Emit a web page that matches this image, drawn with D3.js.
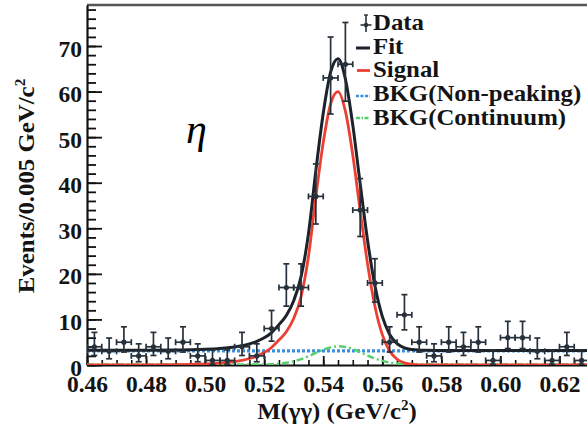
<!DOCTYPE html>
<html><head><meta charset="utf-8">
<script src="https://cdn.jsdelivr.net/npm/d3@7/dist/d3.min.js"></script>
<style>
html,body{margin:0;padding:0;background:#fff;}
svg{display:block;}
</style></head>
<body>
<svg id="chart" width="587" height="428"></svg>
<script>
// ---------------- data ----------------
const binCenters = [0.4625,0.4675,0.4725,0.4775,0.4825,0.4875,0.4925,0.4975,0.5025,0.5075,
  0.5125,0.5175,0.5225,0.5275,0.5325,0.5375,0.5425,0.5475,0.5525,0.5575,
  0.5625,0.5675,0.5725,0.5775,0.5825,0.5875,0.5925,0.5975,0.6025,0.6075,
  0.6125,0.6175,0.6225,0.6275];
const counts = [4,3,5,2,4,3,5,2,1,1,
  4,2,8,17,17,37,63,66,34,18,
  5,11,5,2,5,4,5,1,6,6,
  3,1,4,1];
const errLo = [1.91,1.63,2.16,1.29,1.91,1.63,2.16,1.29,0.83,0.83,
  1.91,1.29,2.77,4.08,4.08,6.06,7.92,8.11,5.80,4.20,
  2.16,3.28,2.16,1.29,2.16,1.91,2.16,0.83,2.38,2.38,
  1.63,0.83,1.91,0.83];
const errHi = [3.16,2.92,3.38,2.64,3.16,2.92,3.38,2.64,2.30,2.30,
  3.16,2.64,3.96,5.20,5.20,7.13,8.97,9.16,6.90,5.32,
  3.38,4.44,3.38,2.64,3.38,3.16,3.38,2.30,3.58,3.58,
  2.92,2.30,3.16,2.30];
const binHalfWidth = 0.0025;

const curveX = [0.46,0.47,0.48,0.49,0.495,0.50,0.505,0.51,
  0.5125,0.515,0.5175,0.52,0.5225,0.525,0.5275,0.53,0.5325,0.535,0.5375,0.54,0.5425,0.545,0.5475,
  0.55,0.5525,0.555,0.5575,0.56,0.5625,0.565,0.5675,0.57,0.5725,0.575,
  0.58,0.59,0.60,0.61,0.62,0.63];
const fitTotal = [3.21,3.21,3.23,3.28,3.34,3.44,3.62,3.96,
  4.23,4.63,5.17,5.96,7.13,8.86,10.88,14.1,19.38,28.82,42.65,55.25,64.27,67.2,62.76,
  52.69,39.82,27.39,17.42,10.67,6.71,4.68,3.76,3.39,3.26,3.22,
  3.20,3.20,3.20,3.20,3.20,3.20];
const signal = [0.01,0.01,0.03,0.08,0.14,0.24,0.42,0.76,
  1.03,1.42,1.96,2.73,3.85,5.47,7.3,10.2,15.0,23.8,36.9,48.8,57.3,60.0,55.7,
  46.1,33.9,22.2,12.9,6.67,3.07,1.26,0.46,0.15,0.04,0.01,
  0,0,0,0,0,0];
const bkgContinuum = [0.10,0.10,0.10,0.10,0.10,0.10,0.10,0.10,
  0.10,0.11,0.11,0.13,0.18,0.29,0.48,0.80,1.28,1.92,2.65,3.35,3.87,4.10,3.96,
  3.49,2.82,2.09,1.42,0.90,0.54,0.32,0.20,0.14,0.12,0.11,
  0.10,0.10,0.10,0.10,0.10,0.10];
const bkgX = [0.46,0.63];
const bkgNonPeaking = [3.1,3.1];

const xTickValues = [0.46,0.48,0.50,0.52,0.54,0.56,0.58,0.60,0.62];
const xTickLabels = ["0.46","0.48","0.50","0.52","0.54","0.56","0.58","0.60","0.62"];
const yTickValues = [0,10,20,30,40,50,60,70];
const yTickLabels = ["0","10","20","30","40","50","60","70"];

const legendLabels = ["Data","Fit","Signal","BKG(Non-peaking)","BKG(Continuum)"];

// ---------------- drawing ----------------
const svg = d3.select("#chart");
const serif = "'Liberation Serif','Times New Roman',serif";
const x = d3.scaleLinear().domain([0.46,0.63]).range([87,589]);
const y = d3.scaleLinear().domain([0,79]).range([365,5]);

const C = {data:"#27313b", fit:"#1b222a", sig:"#ec3f34", blue:"#3a8fe0", green:"#55cf6c"};

svg.append("defs").append("clipPath").attr("id","clip")
  .append("rect").attr("x",87).attr("y",5).attr("width",502).attr("height",360);

// frame top
svg.append("line").attr("x1",87).attr("x2",589).attr("y1",5).attr("y2",5)
  .attr("stroke","#555").attr("stroke-width",2.5);

// minor ticks
const xMinor = d3.range(0,35).map(i => 0.46 + i*0.005);
const yMinor = d3.range(0,40).map(i => i*2);

svg.append("g").attr("transform","translate(0,365)")
  .call(d3.axisBottom(x).tickValues(xMinor).tickFormat("").tickSize(-5).tickSizeOuter(0))
  .call(g => g.select(".domain").remove())
  .call(g => g.selectAll("line").attr("stroke","#111").attr("stroke-width",1.6));
svg.append("g").attr("transform","translate(87,0)")
  .call(d3.axisLeft(y).tickValues(yMinor).tickFormat("").tickSize(-9).tickSizeOuter(0))
  .call(g => g.select(".domain").remove())
  .call(g => g.selectAll("line").attr("stroke","#111").attr("stroke-width",1.8));

// major axes
const xAxis = svg.append("g").attr("transform","translate(0,365)")
  .call(d3.axisBottom(x).tickValues(xTickValues).tickFormat((d,i)=>xTickLabels[i])
        .tickSize(-9).tickSizeOuter(0).tickPadding(10));
xAxis.select(".domain").attr("stroke","#111").attr("stroke-width",2.2);
xAxis.selectAll("line").attr("stroke","#111").attr("stroke-width",1.8);
xAxis.selectAll("text").attr("font-family",serif).attr("font-weight","bold")
  .attr("font-size",23.5).attr("fill","#141414");

const yAxis = svg.append("g").attr("transform","translate(87,0)")
  .call(d3.axisLeft(y).tickValues(yTickValues).tickFormat((d,i)=>yTickLabels[i])
        .tickSize(-15).tickSizeOuter(0).tickPadding(5));
yAxis.select(".domain").attr("stroke","#111").attr("stroke-width",2.2);
yAxis.selectAll("line").attr("stroke","#111").attr("stroke-width",1.8);
yAxis.selectAll("text").attr("font-family",serif).attr("font-weight","bold")
  .attr("font-size",23.5).attr("fill","#141414").attr("dy","0.43em");

// curves
const plot = svg.append("g").attr("clip-path","url(#clip)");
const lineOf = (xs, ys) => d3.line().curve(d3.curveMonotoneX)
  .x((d,i)=>x(xs[i])).y((d,i)=>y(ys[i]))(ys);

plot.append("path").attr("d", lineOf(bkgX,bkgNonPeaking)).attr("fill","none")
  .attr("stroke",C.blue).attr("stroke-width",3.4).attr("stroke-dasharray","3,2");
plot.append("path").attr("d", lineOf(curveX,bkgContinuum)).attr("fill","none")
  .attr("stroke",C.green).attr("stroke-width",2.5).attr("stroke-dasharray","7,3,2,3");
plot.append("path").attr("d", lineOf(curveX,signal)).attr("fill","none")
  .attr("stroke",C.sig).attr("stroke-width",2.8);
plot.append("path").attr("d", lineOf(curveX,fitTotal)).attr("fill","none")
  .attr("stroke",C.fit).attr("stroke-width",3);

// data points
const dg = plot.append("g").attr("stroke",C.data).attr("stroke-width",1.7);
binCenters.forEach((c,i)=>{
  const cx = x(c), cy = y(counts[i]);
  const x0 = x(c-binHalfWidth), x1 = x(c+binHalfWidth);
  const yt = y(counts[i]+errHi[i]), yb = y(Math.max(0,counts[i]-errLo[i]));
  dg.append("line").attr("x1",x0).attr("x2",x1).attr("y1",cy).attr("y2",cy);
  dg.append("line").attr("x1",cx).attr("x2",cx).attr("y1",yt).attr("y2",yb);
  dg.append("line").attr("x1",cx-3).attr("x2",cx+3).attr("y1",yt).attr("y2",yt);
  dg.append("line").attr("x1",cx-3).attr("x2",cx+3).attr("y1",yb).attr("y2",yb);
  dg.append("line").attr("x1",x0).attr("x2",x0).attr("y1",cy-3).attr("y2",cy+3);
  dg.append("line").attr("x1",x1).attr("x2",x1).attr("y1",cy-3).attr("y2",cy+3);
  dg.append("circle").attr("cx",cx).attr("cy",cy).attr("r",2.6).attr("fill",C.data).attr("stroke","none");
});

// legend
const lg = svg.append("g");
const base0 = 30, step = 23.7, tx = 373;
legendLabels.forEach((t,i)=>{
  lg.append("text").attr("transform",`translate(${tx},${base0+i*step}) scale(1.08,1)`)
    .attr("font-family",serif).attr("font-weight","bold").attr("font-size",23)
    .attr("fill","#141414").text(t);
});
// data symbol
lg.append("line").attr("x1",366).attr("x2",366).attr("y1",15).attr("y2",32).attr("stroke",C.data).attr("stroke-width",1.6);
lg.append("line").attr("x1",360.5).attr("x2",371.5).attr("y1",25).attr("y2",25).attr("stroke",C.data).attr("stroke-width",1.6);
lg.append("line").attr("x1",364).attr("x2",368).attr("y1",15).attr("y2",15).attr("stroke",C.data).attr("stroke-width",1.4);
lg.append("circle").attr("cx",366).attr("cy",25).attr("r",2.2).attr("fill",C.data);
lg.append("line").attr("x1",356).attr("x2",370).attr("y1",48).attr("y2",48).attr("stroke",C.fit).attr("stroke-width",3);
lg.append("line").attr("x1",357).attr("x2",370).attr("y1",70.5).attr("y2",70.5).attr("stroke",C.sig).attr("stroke-width",2.8);
lg.append("line").attr("x1",356).attr("x2",370).attr("y1",96).attr("y2",96).attr("stroke",C.blue).attr("stroke-width",2.5).attr("stroke-dasharray","3,1.5");
lg.append("line").attr("x1",356).attr("x2",370).attr("y1",118).attr("y2",118).attr("stroke",C.green).attr("stroke-width",2.5).attr("stroke-dasharray","4,1.5,1.5,1.5");

// eta label
svg.append("text").attr("x",186).attr("y",143).attr("font-family",serif)
  .attr("font-style","italic").attr("font-size",42).attr("fill","#000").text("η");

// axis titles
const xt = svg.append("text").attr("transform","translate(337,419) scale(1.08,1)")
  .attr("text-anchor","middle").attr("font-family",serif).attr("font-weight","bold")
  .attr("font-size",23).attr("fill","#141414");
xt.append("tspan").text("M(γγ) (GeV/c");
xt.append("tspan").attr("font-size",14).attr("dy",-9).text("2");
xt.append("tspan").attr("dy",9).text(")");

const yt = svg.append("text").attr("transform","translate(34,186) rotate(-90) scale(1.08,1)")
  .attr("text-anchor","middle").attr("font-family",serif).attr("font-weight","bold")
  .attr("font-size",23).attr("fill","#141414");
yt.append("tspan").text("Events/0.005 GeV/c");
yt.append("tspan").attr("font-size",14).attr("dy",-9).text("2");
</script>
</body></html>
